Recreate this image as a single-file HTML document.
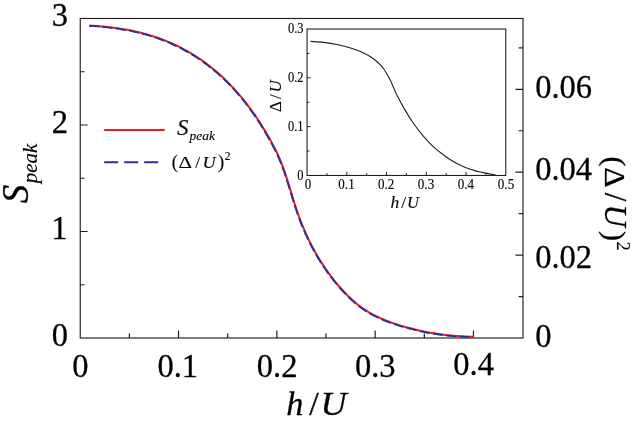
<!DOCTYPE html>
<html><head><meta charset="utf-8"><title>chart</title>
<style>html,body{margin:0;padding:0;background:#fff;}body{width:643px;height:423px;overflow:hidden;position:relative;font-family:"Liberation Serif",serif;}</style></head>
<body>
<svg width="643" height="423" viewBox="0 0 643 423" style="position:absolute;left:0;top:0">
<rect width="643" height="423" fill="#fff"/>
<rect x="80.25" y="18.5" width="442.75" height="319.5" fill="none" stroke="#231f20" stroke-width="1.15"/>
<path d="M129.40,338.0 v-4.4 M178.55,338.0 v-7.5 M227.70,338.0 v-4.4 M276.85,338.0 v-7.5 M326.00,338.0 v-4.4 M375.15,338.0 v-7.5 M424.30,338.0 v-4.4 M473.45,338.0 v-7.5 M80.25,284.75 h4.4 M80.25,231.50 h7.5 M80.25,178.25 h4.4 M80.25,125.00 h7.5 M80.25,71.75 h4.4 M523.0,296.55 h-4.4 M523.0,255.10 h-7.5 M523.0,213.65 h-4.4 M523.0,172.20 h-7.5 M523.0,130.75 h-4.4 M523.0,89.30 h-7.5 M523.0,47.85 h-4.4" fill="none" stroke="#231f20" stroke-width="1.2"/>
<rect x="307.05" y="29.0" width="198.75" height="146.45" fill="#fff" stroke="#231f20" stroke-width="1.1"/>
<path d="M326.93,175.45 v-2.3 M346.80,175.45 v-3.6 M366.68,175.45 v-2.3 M386.55,175.45 v-3.6 M406.43,175.45 v-2.3 M426.30,175.45 v-3.6 M446.18,175.45 v-2.3 M466.05,175.45 v-3.6 M485.93,175.45 v-2.3 M307.05,151.04 h2.4 M307.05,126.63 h3.5 M307.05,102.22 h2.4 M307.05,77.82 h3.5 M307.05,53.41 h2.4" fill="none" stroke="#231f20" stroke-width="1"/>
<path d="M310.60,41.40 C313.12,41.60 321.05,42.03 325.70,42.60 C330.35,43.17 334.23,43.87 338.50,44.80 C342.77,45.73 347.73,47.12 351.30,48.20 C354.87,49.28 357.05,50.07 359.90,51.30 C362.75,52.53 365.83,54.12 368.40,55.60 C370.97,57.08 373.15,58.48 375.30,60.20 C377.45,61.92 379.92,64.47 381.30,65.90 C382.68,67.33 382.78,67.67 383.60,68.80 C384.42,69.93 385.33,71.30 386.20,72.70 C387.07,74.10 387.93,75.55 388.80,77.20 C389.67,78.85 390.48,80.57 391.40,82.60 C392.32,84.63 393.30,87.15 394.30,89.40 C395.30,91.65 395.80,92.98 397.40,96.10 C399.00,99.22 401.35,103.73 403.90,108.10 C406.45,112.47 409.43,117.58 412.70,122.30 C415.97,127.02 419.80,132.08 423.50,136.40 C427.20,140.72 431.58,145.13 434.90,148.20 C438.22,151.27 440.68,152.78 443.40,154.80 C446.12,156.82 448.60,158.67 451.20,160.30 C453.80,161.93 456.40,163.30 459.00,164.60 C461.60,165.90 464.20,167.10 466.80,168.10 C469.40,169.10 472.00,169.88 474.60,170.60 C477.20,171.32 479.80,171.83 482.40,172.40 C485.00,172.97 487.98,173.55 490.20,174.00 C492.42,174.45 494.78,174.92 495.70,175.10" fill="none" stroke="#231f20" stroke-width="1.1"/>
<path d="M89.50,25.50 C90.17,25.54 92.19,25.67 93.54,25.76 C94.88,25.86 96.23,25.96 97.58,26.07 C98.92,26.17 100.27,26.29 101.61,26.41 C102.96,26.54 104.30,26.67 105.65,26.81 C106.99,26.95 108.33,27.10 109.68,27.25 C111.02,27.41 112.36,27.58 113.70,27.75 C115.04,27.93 116.38,28.11 117.71,28.31 C119.05,28.50 120.38,28.71 121.72,28.92 C123.05,29.14 124.38,29.36 125.71,29.60 C127.04,29.83 128.36,30.08 129.68,30.34 C131.01,30.59 132.33,30.86 133.65,31.14 C134.96,31.42 136.28,31.72 137.59,32.02 C138.90,32.33 140.21,32.64 141.51,32.97 C142.82,33.30 144.12,33.64 145.41,34.00 C146.71,34.35 148.00,34.72 149.29,35.10 C150.58,35.49 151.87,35.88 153.15,36.29 C154.43,36.70 155.70,37.12 156.97,37.56 C158.24,38.00 159.51,38.45 160.77,38.92 C162.03,39.38 163.29,39.86 164.54,40.36 C165.79,40.85 167.04,41.36 168.27,41.88 C169.51,42.40 170.75,42.94 171.98,43.49 C173.20,44.04 174.42,44.60 175.64,45.18 C176.86,45.75 178.06,46.34 179.27,46.94 C180.47,47.55 181.67,48.16 182.85,48.79 C184.04,49.42 185.22,50.06 186.40,50.72 C187.57,51.38 188.74,52.04 189.90,52.73 C191.06,53.41 192.21,54.10 193.36,54.81 C194.50,55.51 195.64,56.23 196.77,56.97 C197.90,57.70 199.02,58.44 200.13,59.20 C201.24,59.96 202.34,60.73 203.44,61.51 C204.53,62.29 205.62,63.08 206.70,63.89 C207.77,64.70 208.84,65.52 209.90,66.34 C210.96,67.17 212.01,68.02 213.05,68.87 C214.09,69.72 215.13,70.59 216.15,71.46 C217.17,72.33 218.19,73.22 219.19,74.12 C220.20,75.01 221.20,75.92 222.18,76.84 C223.17,77.75 224.15,78.68 225.12,79.62 C226.09,80.55 227.05,81.50 228.00,82.46 C228.96,83.41 229.90,84.38 230.83,85.35 C231.77,86.33 232.69,87.31 233.61,88.30 C234.52,89.29 235.43,90.30 236.33,91.31 C237.23,92.31 238.12,93.33 239.00,94.36 C239.88,95.38 240.75,96.42 241.61,97.46 C242.47,98.50 243.32,99.55 244.17,100.61 C245.01,101.66 245.84,102.72 246.67,103.80 C247.49,104.87 248.31,105.94 249.12,107.03 C249.93,108.11 250.72,109.20 251.51,110.30 C252.30,111.39 253.09,112.50 253.86,113.60 C254.63,114.71 255.40,115.83 256.15,116.95 C256.91,118.07 257.66,119.19 258.40,120.32 C259.13,121.45 259.87,122.59 260.59,123.73 C261.31,124.87 262.03,126.01 262.74,127.16 C263.44,128.31 264.14,129.46 264.83,130.62 C265.53,131.78 266.21,132.94 266.89,134.10 C267.56,135.27 268.23,136.44 268.89,137.61 C269.56,138.78 270.21,139.95 270.86,141.13 C271.51,142.31 272.15,143.49 272.78,144.67 C273.41,145.86 274.04,147.04 274.66,148.23 C275.28,149.42 276.19,151.21 276.50,151.80 C276.78,152.41 277.65,154.24 278.20,155.46 C278.75,156.69 279.28,157.92 279.80,159.16 C280.32,160.40 280.82,161.65 281.31,162.90 C281.80,164.15 282.28,165.40 282.75,166.66 C283.21,167.92 283.67,169.18 284.11,170.45 C284.56,171.71 284.99,172.98 285.42,174.25 C285.85,175.53 286.27,176.80 286.68,178.08 C287.09,179.36 287.50,180.64 287.90,181.92 C288.31,183.20 288.70,184.49 289.10,185.77 C289.50,187.05 289.89,188.34 290.28,189.63 C290.67,190.91 291.06,192.20 291.45,193.49 C291.84,194.77 292.23,196.06 292.63,197.34 C293.02,198.63 293.42,199.91 293.82,201.20 C294.22,202.48 294.63,203.76 295.04,205.04 C295.45,206.32 295.86,207.60 296.29,208.87 C296.71,210.15 297.14,211.42 297.58,212.69 C298.02,213.96 298.47,215.23 298.93,216.49 C299.39,217.75 299.86,219.01 300.34,220.26 C300.82,221.52 301.31,222.77 301.81,224.01 C302.31,225.26 302.82,226.50 303.34,227.74 C303.86,228.98 304.38,230.21 304.92,231.44 C305.46,232.67 306.01,233.90 306.57,235.12 C307.13,236.34 307.70,237.55 308.28,238.76 C308.86,239.97 309.45,241.18 310.05,242.37 C310.65,243.57 311.25,244.77 311.88,245.96 C312.50,247.15 313.13,248.33 313.77,249.51 C314.41,250.69 315.06,251.86 315.72,253.02 C316.38,254.19 317.06,255.35 317.74,256.50 C318.42,257.66 319.12,258.81 319.82,259.95 C320.53,261.09 321.24,262.22 321.97,263.35 C322.69,264.48 323.43,265.60 324.18,266.72 C324.93,267.83 325.69,268.94 326.46,270.04 C327.23,271.14 328.01,272.23 328.80,273.32 C329.59,274.41 330.39,275.49 331.21,276.56 C332.02,277.63 332.84,278.69 333.68,279.75 C334.52,280.81 335.36,281.85 336.22,282.89 C337.08,283.93 337.95,284.97 338.83,285.99 C339.71,287.01 340.60,288.03 341.51,289.04 C342.41,290.04 343.33,291.04 344.26,292.02 C345.19,293.01 346.12,293.98 347.08,294.94 C348.03,295.90 349.00,296.85 349.97,297.78 C350.95,298.71 351.94,299.62 352.95,300.52 C353.95,301.41 354.97,302.29 356.00,303.15 C357.03,304.01 358.08,304.85 359.14,305.67 C360.20,306.48 361.27,307.28 362.36,308.05 C363.45,308.82 364.55,309.56 365.67,310.29 C366.79,311.01 367.92,311.71 369.06,312.38 C370.21,313.06 371.37,313.71 372.54,314.34 C373.71,314.97 374.89,315.58 376.08,316.17 C377.27,316.76 378.48,317.33 379.69,317.88 C380.91,318.43 382.13,318.97 383.36,319.48 C384.60,320.00 385.84,320.50 387.09,320.98 C388.33,321.47 389.59,321.94 390.85,322.39 C392.12,322.84 393.39,323.28 394.66,323.71 C395.94,324.14 397.22,324.55 398.50,324.96 C399.79,325.36 401.08,325.75 402.37,326.14 C403.66,326.52 404.96,326.89 406.26,327.25 C407.56,327.62 408.86,327.97 410.16,328.31 C411.47,328.65 412.78,328.99 414.09,329.31 C415.40,329.63 416.71,329.94 418.03,330.24 C419.34,330.54 420.66,330.83 421.98,331.11 C423.30,331.39 424.62,331.66 425.95,331.92 C427.27,332.18 428.60,332.43 429.92,332.66 C431.25,332.90 432.58,333.13 433.91,333.34 C435.24,333.56 436.57,333.76 437.90,333.95 C439.24,334.15 440.57,334.33 441.91,334.50 C443.24,334.67 444.58,334.83 445.91,334.98 C447.25,335.13 448.59,335.27 449.93,335.40 C451.26,335.53 452.60,335.65 453.94,335.76 C455.28,335.88 456.62,335.98 457.96,336.08 C459.29,336.17 460.63,336.26 461.97,336.34 C463.31,336.43 464.65,336.50 465.98,336.57 C467.32,336.63 468.66,336.69 469.99,336.75 C471.33,336.81 473.33,336.87 474.00,336.90" fill="none" stroke="#ed1c24" stroke-width="2"/>
<path d="M89.50,25.50 C90.17,25.54 92.19,25.67 93.54,25.76 C94.88,25.86 96.23,25.96 97.58,26.07 C98.92,26.17 100.27,26.29 101.61,26.41 C102.96,26.54 104.30,26.67 105.65,26.81 C106.99,26.95 108.33,27.10 109.68,27.25 C111.02,27.41 112.36,27.58 113.70,27.75 C115.04,27.93 116.38,28.11 117.71,28.31 C119.05,28.50 120.38,28.71 121.72,28.92 C123.05,29.14 124.38,29.36 125.71,29.60 C127.04,29.83 128.36,30.08 129.68,30.34 C131.01,30.59 132.33,30.86 133.65,31.14 C134.96,31.42 136.28,31.72 137.59,32.02 C138.90,32.33 140.21,32.64 141.51,32.97 C142.82,33.30 144.12,33.64 145.41,34.00 C146.71,34.35 148.00,34.72 149.29,35.10 C150.58,35.49 151.87,35.88 153.15,36.29 C154.43,36.70 155.70,37.12 156.97,37.56 C158.24,38.00 159.51,38.45 160.77,38.92 C162.03,39.38 163.29,39.86 164.54,40.36 C165.79,40.85 167.04,41.36 168.27,41.88 C169.51,42.40 170.75,42.94 171.98,43.49 C173.20,44.04 174.42,44.60 175.64,45.18 C176.86,45.75 178.06,46.34 179.27,46.94 C180.47,47.55 181.67,48.16 182.85,48.79 C184.04,49.42 185.22,50.06 186.40,50.72 C187.57,51.38 188.74,52.04 189.90,52.73 C191.06,53.41 192.21,54.10 193.36,54.81 C194.50,55.51 195.64,56.23 196.77,56.97 C197.90,57.70 199.02,58.44 200.13,59.20 C201.24,59.96 202.34,60.73 203.44,61.51 C204.53,62.29 205.62,63.08 206.70,63.89 C207.77,64.70 208.84,65.52 209.90,66.34 C210.96,67.17 212.01,68.02 213.05,68.87 C214.09,69.72 215.13,70.59 216.15,71.46 C217.17,72.33 218.19,73.22 219.19,74.12 C220.20,75.01 221.20,75.92 222.18,76.84 C223.17,77.75 224.15,78.68 225.12,79.62 C226.09,80.55 227.05,81.50 228.00,82.46 C228.96,83.41 229.90,84.38 230.83,85.35 C231.77,86.33 232.69,87.31 233.61,88.30 C234.52,89.29 235.43,90.30 236.33,91.31 C237.23,92.31 238.12,93.33 239.00,94.36 C239.88,95.38 240.75,96.42 241.61,97.46 C242.47,98.50 243.32,99.55 244.17,100.61 C245.01,101.66 245.84,102.72 246.67,103.80 C247.49,104.87 248.31,105.94 249.12,107.03 C249.93,108.11 250.72,109.20 251.51,110.30 C252.30,111.39 253.09,112.50 253.86,113.60 C254.63,114.71 255.40,115.83 256.15,116.95 C256.91,118.07 257.66,119.19 258.40,120.32 C259.13,121.45 259.87,122.59 260.59,123.73 C261.31,124.87 262.03,126.01 262.74,127.16 C263.44,128.31 264.14,129.46 264.83,130.62 C265.53,131.78 266.21,132.94 266.89,134.10 C267.56,135.27 268.23,136.44 268.89,137.61 C269.56,138.78 270.21,139.95 270.86,141.13 C271.51,142.31 272.15,143.49 272.78,144.67 C273.41,145.86 274.04,147.04 274.66,148.23 C275.28,149.42 276.19,151.21 276.50,151.80 C276.78,152.41 277.65,154.24 278.20,155.46 C278.75,156.69 279.28,157.92 279.80,159.16 C280.32,160.40 280.82,161.65 281.31,162.90 C281.80,164.15 282.28,165.40 282.75,166.66 C283.21,167.92 283.67,169.18 284.11,170.45 C284.56,171.71 284.99,172.98 285.42,174.25 C285.85,175.53 286.27,176.80 286.68,178.08 C287.09,179.36 287.50,180.64 287.90,181.92 C288.31,183.20 288.70,184.49 289.10,185.77 C289.50,187.05 289.89,188.34 290.28,189.63 C290.67,190.91 291.06,192.20 291.45,193.49 C291.84,194.77 292.23,196.06 292.63,197.34 C293.02,198.63 293.42,199.91 293.82,201.20 C294.22,202.48 294.63,203.76 295.04,205.04 C295.45,206.32 295.86,207.60 296.29,208.87 C296.71,210.15 297.14,211.42 297.58,212.69 C298.02,213.96 298.47,215.23 298.93,216.49 C299.39,217.75 299.86,219.01 300.34,220.26 C300.82,221.52 301.31,222.77 301.81,224.01 C302.31,225.26 302.82,226.50 303.34,227.74 C303.86,228.98 304.38,230.21 304.92,231.44 C305.46,232.67 306.01,233.90 306.57,235.12 C307.13,236.34 307.70,237.55 308.28,238.76 C308.86,239.97 309.45,241.18 310.05,242.37 C310.65,243.57 311.25,244.77 311.88,245.96 C312.50,247.15 313.13,248.33 313.77,249.51 C314.41,250.69 315.06,251.86 315.72,253.02 C316.38,254.19 317.06,255.35 317.74,256.50 C318.42,257.66 319.12,258.81 319.82,259.95 C320.53,261.09 321.24,262.22 321.97,263.35 C322.69,264.48 323.43,265.60 324.18,266.72 C324.93,267.83 325.69,268.94 326.46,270.04 C327.23,271.14 328.01,272.23 328.80,273.32 C329.59,274.41 330.39,275.49 331.21,276.56 C332.02,277.63 332.84,278.69 333.68,279.75 C334.52,280.81 335.36,281.85 336.22,282.89 C337.08,283.93 337.95,284.97 338.83,285.99 C339.71,287.01 340.60,288.03 341.51,289.04 C342.41,290.04 343.33,291.04 344.26,292.02 C345.19,293.01 346.12,293.98 347.08,294.94 C348.03,295.90 349.00,296.85 349.97,297.78 C350.95,298.71 351.94,299.62 352.95,300.52 C353.95,301.41 354.97,302.29 356.00,303.15 C357.03,304.01 358.08,304.85 359.14,305.67 C360.20,306.48 361.27,307.28 362.36,308.05 C363.45,308.82 364.55,309.56 365.67,310.29 C366.79,311.01 367.92,311.71 369.06,312.38 C370.21,313.06 371.37,313.71 372.54,314.34 C373.71,314.97 374.89,315.58 376.08,316.17 C377.27,316.76 378.48,317.33 379.69,317.88 C380.91,318.43 382.13,318.97 383.36,319.48 C384.60,320.00 385.84,320.50 387.09,320.98 C388.33,321.47 389.59,321.94 390.85,322.39 C392.12,322.84 393.39,323.28 394.66,323.71 C395.94,324.14 397.22,324.55 398.50,324.96 C399.79,325.36 401.08,325.75 402.37,326.14 C403.66,326.52 404.96,326.89 406.26,327.25 C407.56,327.62 408.86,327.97 410.16,328.31 C411.47,328.65 412.78,328.99 414.09,329.31 C415.40,329.63 416.71,329.94 418.03,330.24 C419.34,330.54 420.66,330.83 421.98,331.11 C423.30,331.39 424.62,331.66 425.95,331.92 C427.27,332.18 428.60,332.43 429.92,332.66 C431.25,332.90 432.58,333.13 433.91,333.34 C435.24,333.56 436.57,333.76 437.90,333.95 C439.24,334.15 440.57,334.33 441.91,334.50 C443.24,334.67 444.58,334.83 445.91,334.98 C447.25,335.13 448.59,335.27 449.93,335.40 C451.26,335.53 452.60,335.65 453.94,335.76 C455.28,335.88 456.62,335.98 457.96,336.08 C459.29,336.17 460.63,336.26 461.97,336.34 C463.31,336.43 464.65,336.50 465.98,336.57 C467.32,336.63 468.66,336.69 469.99,336.75 C471.33,336.81 473.33,336.87 474.00,336.90" transform="translate(-0.3,0.35)" fill="none" stroke="#2e3192" stroke-width="1.9" stroke-dasharray="10 3.4"/>
<path d="M104.2,130.0 H164.7" stroke="#ed1c24" stroke-width="2" fill="none"/>
<path d="M104.2,162.3 H158.2" stroke="#2e3192" stroke-width="2" stroke-dasharray="14 6" fill="none"/>
<g font-family="Liberation Serif, serif" fill="#000" stroke="#000" stroke-width="0.3" stroke-linejoin="round" opacity="0.999">
<text transform="translate(80.5,377.0) scale(0.965,1)" font-size="33.7" stroke-width="0.3" text-anchor="middle" >0</text>
<text transform="translate(177.8,377.0) scale(0.965,1)" font-size="33.7" stroke-width="0.3" text-anchor="middle" >0.1</text>
<text transform="translate(277.1,377.0) scale(0.965,1)" font-size="33.7" stroke-width="0.3" text-anchor="middle" >0.2</text>
<text transform="translate(375.3,377.0) scale(0.965,1)" font-size="33.7" stroke-width="0.3" text-anchor="middle" >0.3</text>
<text transform="translate(473.6,374.5) scale(0.965,1)" font-size="33.7" stroke-width="0.3" text-anchor="middle" >0.4</text>
<text transform="translate(68.0,345.6) scale(0.965,1)" font-size="33.7" stroke-width="0.3" text-anchor="end" >0</text>
<text transform="translate(67.5,239.1) scale(0.965,1)" font-size="33.7" stroke-width="0.3" text-anchor="end" >1</text>
<text transform="translate(68.0,132.6) scale(0.965,1)" font-size="33.7" stroke-width="0.3" text-anchor="end" >2</text>
<text transform="translate(68.0,26.1) scale(0.965,1)" font-size="33.7" stroke-width="0.3" text-anchor="end" >3</text>
<text transform="translate(535.2,346.6) scale(0.965,1)" font-size="33.7" stroke-width="0.3" text-anchor="start" >0</text>
<text transform="translate(535.2,267.5) scale(0.965,1)" font-size="33.7" stroke-width="0.3" text-anchor="start" >0.02</text>
<text transform="translate(535.2,180.3) scale(0.965,1)" font-size="33.7" stroke-width="0.3" text-anchor="start" >0.04</text>
<text transform="translate(535.2,98.2) scale(0.965,1)" font-size="33.7" stroke-width="0.3" text-anchor="start" >0.06</text>
<text transform="translate(307.9,188.9) scale(0.93,1)" font-size="14.0" stroke-width="0.15" text-anchor="middle" >0</text>
<text transform="translate(346.5,188.9) scale(0.93,1)" font-size="14.0" stroke-width="0.15" text-anchor="middle" >0.1</text>
<text transform="translate(386.2,188.9) scale(0.93,1)" font-size="14.0" stroke-width="0.15" text-anchor="middle" >0.2</text>
<text transform="translate(426.0,188.9) scale(0.93,1)" font-size="14.0" stroke-width="0.15" text-anchor="middle" >0.3</text>
<text transform="translate(465.8,188.9) scale(0.93,1)" font-size="14.0" stroke-width="0.15" text-anchor="middle" >0.4</text>
<text transform="translate(506.0,188.9) scale(0.93,1)" font-size="14.0" stroke-width="0.15" text-anchor="middle" >0.5</text>
<text transform="translate(303.5,179.5) scale(0.88,1)" font-size="14.2" stroke-width="0.15" text-anchor="end" >0</text>
<text transform="translate(303.5,130.7) scale(0.88,1)" font-size="14.2" stroke-width="0.15" text-anchor="end" >0.1</text>
<text transform="translate(303.5,81.9) scale(0.88,1)" font-size="14.2" stroke-width="0.15" text-anchor="end" >0.2</text>
<text transform="translate(303.5,33.1) scale(0.88,1)" font-size="14.2" stroke-width="0.15" text-anchor="end" >0.3</text>
<text transform="translate(390.6,207.5)" font-size="17.5" stroke-width="0.15" font-style="italic">h</text>
<text transform="translate(401.2,207.5)" font-size="17.5" stroke-width="0.15">/</text>
<text transform="translate(407.1,207.5) scale(0.94,1)" font-size="17.5" stroke-width="0.15" font-style="italic">U</text>
<text transform="translate(280.9,111.9) rotate(-90)" font-size="17" stroke-width="0.15">Δ</text>
<text transform="translate(280.9,98.9) rotate(-90)" font-size="17" stroke-width="0.15">/</text>
<text transform="translate(280.9,92.4) rotate(-90)" font-size="17" stroke-width="0.15" font-style="italic">U</text>
<text transform="translate(177.0,134.8)" font-size="23" stroke-width="0.15" font-style="italic">S</text>
<text transform="translate(189.6,139.8)" font-size="13.5" stroke-width="0.15" font-style="italic">peak</text>
<text transform="translate(171.8,168.3)" font-size="18.5" stroke-width="0.15">(</text>
<text transform="translate(178.4,168.0) scale(1.2,1)" font-size="17.5" stroke-width="0.15">Δ</text>
<text transform="translate(195.2,168.0)" font-size="17.5" stroke-width="0.15">/</text>
<text transform="translate(202.5,168.0) scale(1.04,1)" font-size="17.5" stroke-width="0.15" font-style="italic">U</text>
<text transform="translate(217.9,168.3)" font-size="18.5" stroke-width="0.15">)</text>
<text transform="translate(224.8,159.7)" font-size="11.5" stroke-width="0.15">2</text>
<text transform="translate(286.2,415.3)" font-size="34.3" stroke-width="0.3" font-style="italic">h</text>
<text transform="translate(309.15,415.3)" font-size="34.3" stroke-width="0.3">/</text>
<text transform="translate(320.55,415.3) scale(1.05,1)" font-size="34.3" stroke-width="0.3" font-style="italic">U</text>
<text transform="translate(28.2,203.2) rotate(-90)" font-size="37" stroke-width="0.3" font-style="italic">S</text>
<text transform="translate(36.9,183.2) rotate(-90)" font-size="21" stroke-width="0.15" font-style="italic">peak</text>
<text transform="translate(605.1,156.5) rotate(90)" font-size="30" stroke-width="0.3">(</text>
<text transform="translate(605.3,167.3) rotate(90) scale(1.06,1)" font-size="29.6" stroke-width="0.3">Δ</text>
<text transform="translate(605.3,192.8) rotate(90)" font-size="31" stroke-width="0.3">/</text>
<text transform="translate(605.0,204.4) rotate(90)" font-size="31" stroke-width="0.3" font-style="italic">U</text>
<text transform="translate(605.1,230.9) rotate(90)" font-size="30" stroke-width="0.3">)</text>
<text transform="translate(617.4,241.6) rotate(90)" font-size="18.5" stroke-width="0.15">2</text>
</g>
</svg>
</body></html>
